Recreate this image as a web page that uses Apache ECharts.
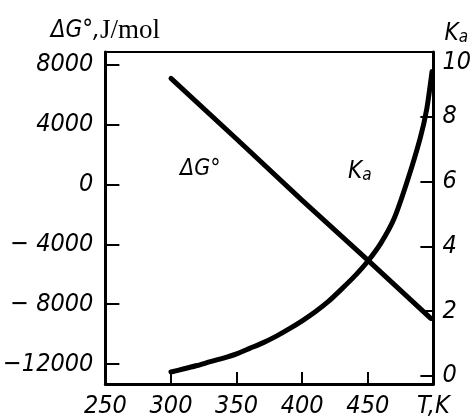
<!DOCTYPE html>
<html>
<head>
<meta charset="utf-8">
<script src="https://cdn.jsdelivr.net/npm/echarts@6/dist/echarts.min.js"></script>
<style>html,body{margin:0;padding:0;background:#fff}#c{width:474px;height:419px}</style>
</head>
<body>
<div id="c"></div>
<script>
// Temperature axis ticks (K)
var tempTicks = [250, 300, 350, 400, 450, 500];
// Left axis: ΔG°, J/mol
var dgTicks = [-12000, -8000, -4000, 0, 4000, 8000];
// Right axis: Ka
var kaTicks = [0, 2, 4, 6, 8, 10];

// ΔG° line (T, J/mol)
var dgT = [300, 350, 400, 450, 498];
var dgValues = [7100, 3050, -1050, -5050, -8950];

// Ka curve (T, Ka)
var kaT = [300, 310, 320, 330, 340, 350, 360, 370, 380, 390, 400, 410, 420, 430, 440, 450, 460, 470, 480, 490, 495, 499];
var kaValues = [0.12, 0.22, 0.32, 0.44, 0.55, 0.68, 0.85, 1.02, 1.22, 1.45, 1.7, 1.98, 2.3, 2.68, 3.08, 3.54, 4.1, 4.85, 6.0, 7.35, 8.25, 9.4];

var FONT = "'DejaVu Sans Condensed', 'DejaVu Sans', sans-serif";
var lblStyle = {fontFamily: FONT, fontStyle: 'italic', fontSize: 25, color: '#000'};

var chart = echarts.init(document.getElementById('c'), null, {renderer: 'canvas'});
chart.setOption({
  animation: false,
  backgroundColor: '#fff',
  grid: {left: 100, right: 38, top: 52, bottom: 34},
  xAxis: [{
    type: 'value', min: 250, max: 500, interval: 50,
    axisLine: {onZero: false, lineStyle: {color: '#000', width: 3}},
    axisTick: {inside: true, length: 12, lineStyle: {color: '#000', width: 2}},
    splitLine: {show: false},
    axisLabel: Object.assign({}, lblStyle, {
      margin: 10,
      formatter: function (v) { return v === 500 ? '{t|T,K}' : String(v); },
      rich: {t: {fontFamily: FONT, fontStyle: 'italic', fontSize: 25, color: '#000', align: 'right'}}
    })
  }, {
    type: 'value', position: 'top', min: 250, max: 500,
    axisLine: {show: true, onZero: false, lineStyle: {color: '#000', width: 2}},
    axisTick: {show: false}, axisLabel: {show: false}, splitLine: {show: false}
  }],
  yAxis: [{
    type: 'value', min: -13333, max: 8867,
    name: '{a|ΔG°,}{b|J/mol}', nameLocation: 'end', nameGap: 8,
    nameTextStyle: {
      rich: {
        a: {fontFamily: FONT, fontStyle: 'italic', fontSize: 24, color: '#000'},
        b: {fontFamily: "'Liberation Serif', 'DejaVu Serif', serif", fontSize: 27, color: '#000'}
      }
    },
    axisLine: {show: true, onZero: false, lineStyle: {color: '#000', width: 3}},
    axisTick: {show: true, inside: true, length: 14, customValues: dgTicks, lineStyle: {color: '#000', width: 2}},
    splitLine: {show: false},
    axisLabel: Object.assign({}, lblStyle, {
      margin: 12, customValues: dgTicks,
      formatter: function (v) {
        if (v < 0) { var a = Math.abs(v); return '\u2212' + (a < 10000 ? ' ' : '') + a; }
        return String(v);
      }
    })
  }, {
    type: 'value', position: 'right', min: -0.25, max: 10,
    name: '{k|K}{s|a}', nameLocation: 'end', nameGap: 6,
    nameTextStyle: {
      padding: [0, 0, 0, 46],
      rich: {
        k: {fontFamily: FONT, fontStyle: 'italic', fontSize: 24, color: '#000'},
        s: {fontFamily: FONT, fontStyle: 'italic', fontSize: 17, color: '#000', verticalAlign: 'bottom', padding: [8, 0, 0, 0]}
      }
    },
    axisLine: {show: true, onZero: false, lineStyle: {color: '#000', width: 3}},
    axisTick: {show: true, inside: true, length: 13, customValues: kaTicks, lineStyle: {color: '#000', width: 2}},
    splitLine: {show: false},
    axisLabel: Object.assign({}, lblStyle, {
      margin: 9, customValues: kaTicks,
      formatter: function (v) { return v === 10 ? '{p|10}' : String(v); },
      rich: {p: {fontFamily: FONT, fontStyle: 'italic', fontSize: 25, color: '#000', padding: [20, 0, 0, 0]}}
    })
  }],
  series: [{
    name: 'ΔG°', type: 'line', xAxisIndex: 0, yAxisIndex: 0,
    data: dgT.map(function (t, i) { return [t, dgValues[i]]; }),
    showSymbol: false, symbol: 'none',
    lineStyle: {color: '#000', width: 5, cap: 'round'}
  }, {
    name: 'Ka', type: 'line', xAxisIndex: 0, yAxisIndex: 1,
    data: kaT.map(function (t, i) { return [t, kaValues[i]]; }),
    smooth: 0.2, showSymbol: false, symbol: 'none',
    lineStyle: {color: '#000', width: 5, cap: 'round', join: 'round'}
  }],
  graphic: [{
    type: 'text', left: 180, top: 158,
    style: {text: 'ΔG°', fontFamily: FONT, fontStyle: 'italic', fontSize: 23, fill: '#000'}
  }, {
    type: 'text', left: 348, top: 160,
    style: {
      text: '{k|K}{s|a}',
      rich: {
        k: {fontFamily: FONT, fontStyle: 'italic', fontSize: 24, fill: '#000'},
        s: {fontFamily: FONT, fontStyle: 'italic', fontSize: 17, fill: '#000', padding: [8, 0, 0, 0]}
      }
    }
  }]
});
</script>
</body>
</html>
